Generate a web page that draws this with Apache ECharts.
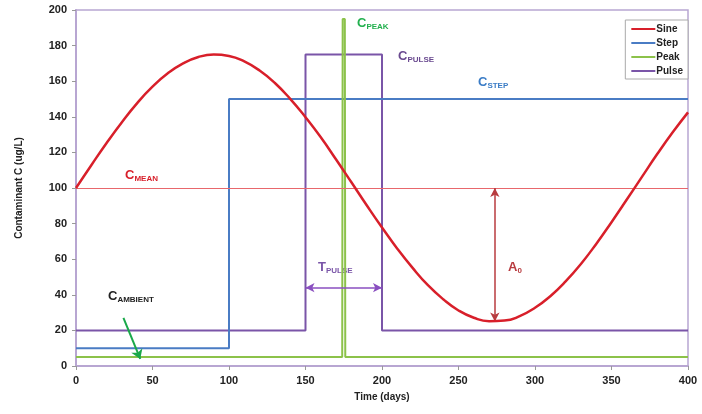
<!DOCTYPE html>
<html>
<head>
<meta charset="utf-8">
<script src="https://cdn.jsdelivr.net/npm/echarts@6/dist/echarts.min.js"></script>
<style>
  html, body { margin: 0; padding: 0; background: #fff; }
  #chart { width: 702px; height: 414px; }
</style>
</head>
<body>
<div id="chart"></div>
<script>
// values
var sineDays = [0,10,20,30,40,50,60,70,80,90,100,110,120,130,140,150,160,170,180,190,200,
  210,220,230,240,250,260,270,280,290,300,310,320,330,340,350,360,370,380,390,400];
var sineVals = [100,112.8,125.3,137.0,147.7,156.9,164.4,170.0,173.6,175.0,174.2,171.1,166.0,159.0,150.1,
  139.8,128.5,116.0,103.2,90.3,77.8,65.9,55.1,45.4,37.5,31.2,27.1,25.2,25.5,28.0,32.7,
  39.2,47.5,57.3,68.6,80.8,93.5,106.4,119.2,131.3,142.5];
var stepDays = [0,100,100,400];
var stepVals = [10,10,150,150];
var peakDays = [0,174,174.3,175.7,176,400];
var peakVals = [5,5,195,195,5,5];
var pulseDays = [0,150,150,200,200,400];
var pulseVals = [20,20,175,175,20,20];
var meanLevel = 100;

function pairs(xs, ys) {
  return xs.map(function (x, i) { return [x, ys[i]]; });
}

var lavender = '#b8a6d2';
var rich = {
  c: { fontSize: 13, fontWeight: 'bold', fontFamily: 'Liberation Sans' },
  s: { fontSize: 8, fontWeight: 'bold', fontFamily: 'Liberation Sans', padding: [7, 0, 0, 0] }
};
function sub(txt, color, x, y, main) {
  return {
    type: 'text', left: x, top: y, silent: true,
    style: { text: '{c|' + (main || 'C') + '}{s|' + txt + '}', fill: color, rich: rich }
  };
}

var chart = echarts.init(document.getElementById('chart'));
chart.setOption({
  animation: false,
  backgroundColor: '#fff',
  textStyle: { fontFamily: 'Liberation Sans' },
  grid: { left: 76, right: 14, top: 10, bottom: 48, show: true, borderColor: lavender, borderWidth: 1.5 },
  legend: {
    orient: 'vertical', right: 14, top: 20, padding: [4, 5, 3, 6], itemGap: 4,
    icon: 'rect', itemWidth: 24, itemHeight: 2, borderColor: '#aaa', borderWidth: 1,
    backgroundColor: '#fff',
    textStyle: { fontSize: 10, fontWeight: 'bold', color: '#222', padding: [0, 0, 0, -4] },
    data: ['Sine', 'Step', 'Peak', 'Pulse']
  },
  xAxis: {
    type: 'value', min: 0, max: 400, interval: 50,
    name: 'Time (days)', nameLocation: 'middle', nameGap: 26,
    nameTextStyle: { fontSize: 10, fontWeight: 'bold', color: '#222' },
    axisLine: { lineStyle: { color: lavender, width: 2 } },
    axisTick: { show: true, length: 4, lineStyle: { color: '#999' } },
    axisLabel: { fontSize: 11, fontWeight: 'bold', color: '#222', margin: 9 },
    splitLine: { show: false }
  },
  yAxis: {
    type: 'value', min: 0, max: 200, interval: 20,
    name: 'Contaminant C (ug/L)', nameLocation: 'middle', nameGap: 52, nameRotate: 90,
    nameTextStyle: { fontSize: 10, fontWeight: 'bold', color: '#222' },
    axisLine: { show: true, lineStyle: { color: lavender, width: 2 } },
    axisTick: { show: true, length: 4, lineStyle: { color: '#999' } },
    axisLabel: { fontSize: 11, fontWeight: 'bold', color: '#222', margin: 9 },
    splitLine: { show: false }
  },
  series: [
    {
      name: 'Pulse', type: 'line', symbol: 'none', z: 2,
      data: pairs(pulseDays, pulseVals),
      lineStyle: { color: '#7a55a8', width: 2 }, itemStyle: { color: '#7a55a8' },
      markLine: {
        silent: true, symbol: ['arrow', 'arrow'], symbolSize: [7, 9], label: { show: false },
        lineStyle: { color: '#8a4fc0', width: 1.5, type: 'solid' },
        data: [[{ coord: [150, 44] }, { coord: [200, 44] }]]
      }
    },
    {
      name: 'Step', type: 'line', symbol: 'none', z: 3,
      data: pairs(stepDays, stepVals),
      lineStyle: { color: '#4a7cc4', width: 2 }, itemStyle: { color: '#4a7cc4' }
    },
    {
      name: 'Peak', type: 'line', symbol: 'none', z: 4,
      data: pairs(peakDays, peakVals),
      lineStyle: { color: '#8cc24a', width: 2 }, itemStyle: { color: '#8cc24a' },
      markLine: {
        silent: true, symbol: ['none', 'arrow'], symbolSize: 9, label: { show: false },
        lineStyle: { color: '#1aa84a', width: 2, type: 'solid' },
        data: [[{ coord: [31, 27] }, { coord: [42, 4] }]]
      }
    },
    {
      name: 'Sine', type: 'line', symbol: 'none', smooth: true, z: 5,
      data: pairs(sineDays, sineVals),
      lineStyle: { color: '#d81f2a', width: 2.5, join: 'round' }, itemStyle: { color: '#d81f2a' },
      markLine: {
        silent: true, label: { show: false }, symbol: 'none',
        data: [
          { yAxis: meanLevel, lineStyle: { color: '#e8676c', width: 1, type: 'solid' } },
          [{ coord: [273.75, 100], symbol: 'arrow', symbolSize: [7, 9] },
           { coord: [273.75, 25], symbol: 'arrow', symbolSize: [7, 9],
             lineStyle: { color: '#b83b3f', width: 1.5, type: 'solid' } }]
        ]
      }
    }
  ],
  graphic: [
    sub('MEAN', '#d81f2a', 125, 169),
    sub('PEAK', '#22b04e', 357, 17),
    sub('PULSE', '#6a4a90', 398, 50),
    sub('STEP', '#3a7cc6', 478, 76),
    sub('AMBIENT', '#222', 108, 290),
    sub('PULSE', '#7a55a8', 318, 261, 'T'),
    sub('0', '#b83b3f', 508, 261, 'A')
  ]
});
</script>
</body>
</html>
